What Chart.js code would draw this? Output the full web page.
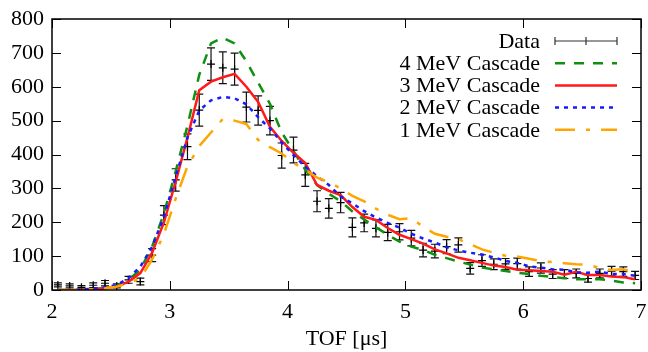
<!DOCTYPE html>
<html>
<head>
<meta charset="utf-8">
<script src="https://cdn.jsdelivr.net/npm/chart.js@4.4.1/dist/chart.umd.min.js"></script>
<style>
  html, body { margin: 0; padding: 0; background: #fff; }
</style>
</head>
<body>
<canvas id="tof-chart" width="648" height="352"></canvas>
<script>
// bin centres (µs)
const tof = [2.05, 2.15, 2.25, 2.35, 2.45, 2.55, 2.65, 2.75, 2.85, 2.95,
             3.05, 3.15, 3.25, 3.35, 3.45, 3.55, 3.65, 3.75, 3.85, 3.95,
             4.05, 4.15, 4.25, 4.35, 4.45, 4.55, 4.65, 4.75, 4.85, 4.95,
             5.05, 5.15, 5.25, 5.35, 5.45, 5.55, 5.65, 5.75, 5.85, 5.95,
             6.05, 6.15, 6.25, 6.35, 6.45, 6.55, 6.65, 6.75, 6.85, 6.95];

const counts = [15, 12, 8, 14, 20, 12, 30, 25, 103, 221,
                325, 423, 531, 667, 656, 652, 540, 530, 500, 397,
                413, 340, 262, 241, 258, 185, 198, 182, 170, 172,
                153, 118, 115, 128, 133, 64, 87, 76, 77, 78,
                54, 65, 47, 47, 49, 34, 49, 56, 54, 43];

const countErrors = [6, 6, 5, 7, 8, 6, 10, 10, 19, 28,
                     33, 38, 47, 48, 47, 47, 44, 43, 42, 37,
                     38, 34, 31, 29, 30, 28, 26, 25, 24, 24,
                     23, 20, 20, 21, 21, 17, 17, 16, 16, 16,
                     14, 15, 13, 13, 13, 11, 13, 14, 14, 12];

const cascade4 = [0, 0, 0, 2, 6, 12, 30, 60, 128, 226,
                  350, 485, 635, 728, 745, 728, 675, 612, 550, 465,
                  410, 355, 310, 284, 262, 232, 208, 185, 163, 143,
                  128, 118, 104, 94, 84, 75, 66, 61, 56, 51,
                  47, 42, 38, 35, 32, 32, 32, 28, 22, 20];

const cascade3 = [0, 0, 0, 2, 5, 10, 25, 50, 110, 200,
                  320, 450, 590, 615, 628, 638, 600, 555, 482, 440,
                  405, 375, 310, 293, 280, 245, 216, 207, 183, 163,
                  150, 137, 120, 108, 95, 88, 80, 72, 68, 60,
                  58, 56, 54, 45, 54, 44, 44, 40, 38, 32];

const cascade2 = [0, 0, 2, 4, 8, 15, 35, 69, 128, 216,
                  335, 450, 530, 560, 570, 566, 548, 510, 477, 435,
                  398, 364, 336, 310, 276, 256, 233, 214, 198, 184,
                  166, 152, 140, 126, 117, 110, 105, 96, 86, 80,
                  70, 66, 61, 60, 52, 51, 54, 47, 47, 42];

const cascade1 = [0, 0, 0, 2, 5, 10, 20, 35, 90, 165,
                  270, 365, 425, 465, 505, 500, 490, 443, 422, 403,
                  375, 355, 332, 318, 300, 278, 262, 240, 222, 209,
                  212, 187, 166, 157, 150, 135, 120, 110, 101, 99,
                  92, 86, 82, 79, 76, 74, 65, 59, 61, 52];

const xTicks = [2, 3, 4, 5, 6, 7];
const yTicks = [0, 100, 200, 300, 400, 500, 600, 700, 800];

const FONT = "'Liberation Serif', 'DejaVu Serif', serif";
const FONT_SIZE = 22;

const toPoints = ys => tof.map((x, i) => ({x, y: ys[i]}));

// error bars under everything else
const errorBars = {
    id: 'errorBars',
    beforeDatasetsDraw(chart) {
        const {ctx, scales: {x, y}, chartArea: a} = chart;
        ctx.save();
        ctx.beginPath();
        ctx.rect(a.left, a.top, a.right - a.left, a.bottom - a.top);
        ctx.clip();
        ctx.strokeStyle = '#111';
        ctx.lineWidth = 1.2;
        ctx.beginPath();
        tof.forEach((t, i) => {
            const px = x.getPixelForValue(t);
            const top = y.getPixelForValue(counts[i] + countErrors[i]);
            const bot = y.getPixelForValue(Math.max(0, counts[i] - countErrors[i]));
            ctx.moveTo(px, top); ctx.lineTo(px, bot);
            ctx.moveTo(px - 4, top); ctx.lineTo(px + 4, top);
            ctx.moveTo(px - 4, bot); ctx.lineTo(px + 4, bot);
        });
        ctx.stroke();
        ctx.restore();
    }
};

// gnuplot style frame with inward ticks on all four sides
const frameTicks = {
    id: 'frameTicks',
    afterDatasetsDraw(chart) {
        const {ctx, scales: {x, y}, chartArea: a} = chart;
        ctx.save();
        ctx.strokeStyle = '#000';
        ctx.lineWidth = 1;
        ctx.beginPath();
        xTicks.forEach(v => {
            const px = Math.round(x.getPixelForValue(v)) + 0.5;
            ctx.moveTo(px, a.bottom); ctx.lineTo(px, a.bottom - 9);
            ctx.moveTo(px, a.top); ctx.lineTo(px, a.top + 9);
        });
        yTicks.forEach(v => {
            const py = Math.round(y.getPixelForValue(v)) + 0.5;
            ctx.moveTo(a.left, py); ctx.lineTo(a.left + 9, py);
            ctx.moveTo(a.right, py); ctx.lineTo(a.right - 9, py);
        });
        ctx.stroke();
        ctx.lineWidth = 1.5;
        ctx.strokeRect(a.left, a.top, a.right - a.left, a.bottom - a.top);
        ctx.restore();
    }
};

// key: right-aligned labels with the line sample on the right
const keyBox = {
    id: 'keyBox',
    afterDraw(chart) {
        const {ctx} = chart;
        const textRight = 540, sx0 = 555, sx1 = 617, top = 41, step = 22.2;
        ctx.save();
        ctx.font = `${FONT_SIZE}px ${FONT}`;
        ctx.textAlign = 'right';
        ctx.textBaseline = 'middle';
        chart.data.datasets.forEach((ds, i) => {
            const yy = top + i * step;
            ctx.fillStyle = '#000';
            ctx.fillText(ds.label, textRight, yy + 1);
            ctx.beginPath();
            if (ds.isData) {
                ctx.strokeStyle = '#333';
                ctx.lineWidth = 1.2;
                ctx.moveTo(sx0, yy); ctx.lineTo(sx1, yy);
                ctx.moveTo(sx0, yy - 4); ctx.lineTo(sx0, yy + 4);
                ctx.moveTo(sx1, yy - 4); ctx.lineTo(sx1, yy + 4);
                const mid = (sx0 + sx1) / 2;
                ctx.moveTo(mid, yy - 4); ctx.lineTo(mid, yy + 4);
            } else {
                ctx.strokeStyle = ds.borderColor;
                ctx.lineWidth = ds.borderWidth;
                ctx.setLineDash(ds.borderDash || []);
                ctx.moveTo(sx0, yy); ctx.lineTo(sx1, yy);
            }
            ctx.stroke();
            ctx.setLineDash([]);
        });
        ctx.restore();
    }
};

const lineSet = (label, ys, color, dash, order) => ({
    label,
    data: toPoints(ys),
    borderColor: color,
    backgroundColor: color,
    borderWidth: 2.5,
    borderDash: dash,
    pointRadius: 0,
    tension: 0,
    fill: false,
    order
});

new Chart(document.getElementById('tof-chart'), {
    type: 'line',
    data: {
        datasets: [
            {
                label: 'Data',
                isData: true,
                data: toPoints(counts),
                showLine: false,
                pointStyle: 'cross',
                pointRadius: 4,
                borderColor: '#000',
                backgroundColor: '#000',
                pointBorderWidth: 1.2,
                order: 5
            },
            lineSet('4 MeV Cascade', cascade4, '#109010', [10, 9], 4),
            lineSet('3 MeV Cascade', cascade3, '#ff1a1a', [], 3),
            lineSet('2 MeV Cascade', cascade2, '#1a1aff', [4, 5], 2),
            lineSet('1 MeV Cascade', cascade1, '#ffa500', [20, 11, 4, 11], 1)
        ]
    },
    options: {
        responsive: false,
        animation: false,
        devicePixelRatio: 1,
        layout: { padding: { top: 19, right: 7, left: 0, bottom: 0 } },
        plugins: {
            legend: { display: false },
            tooltip: { enabled: false }
        },
        scales: {
            x: {
                type: 'linear',
                min: 2,
                max: 7,
                afterBuildTicks: s => { s.ticks = xTicks.map(v => ({value: v})); },
                afterFit: s => { s.height = 62; s.paddingLeft = 0; s.paddingRight = 0; },
                grid: { display: false, drawTicks: false },
                border: { display: false },
                ticks: {
                    color: '#000',
                    font: { family: FONT, size: FONT_SIZE },
                    padding: 9,
                    maxRotation: 0
                },
                title: {
                    display: true,
                    text: 'TOF [μs]',
                    color: '#000',
                    font: { family: FONT, size: FONT_SIZE },
                    padding: { top: 0, bottom: 0 }
                }
            },
            y: {
                min: 0,
                max: 800,
                afterBuildTicks: s => { s.ticks = yTicks.map(v => ({value: v})); },
                afterFit: s => { s.width = 52; s.paddingTop = 0; s.paddingBottom = 0; },
                grid: { display: false, drawTicks: false },
                border: { display: false },
                ticks: {
                    color: '#000',
                    font: { family: FONT, size: FONT_SIZE },
                    padding: 8
                }
            }
        }
    },
    plugins: [errorBars, frameTicks, keyBox]
});
</script>
</body>
</html>
